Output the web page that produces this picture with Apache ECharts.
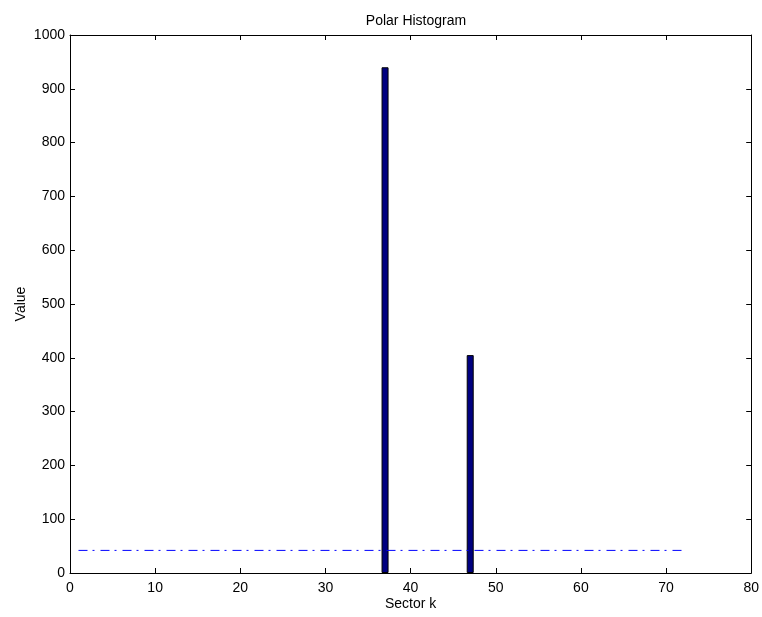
<!DOCTYPE html>
<html>
<head>
<meta charset="utf-8">
<script src="https://cdn.jsdelivr.net/npm/echarts@6/dist/echarts.min.js"></script>
<style>html,body{margin:0;padding:0;background:#fff}#c{width:762px;height:617px}</style>
</head>
<body>
<div id="c"></div>
<script>
// Data
var sectors = [37, 47];
var counts = [940, 405];
var thresholdValue = 42;
var thresholdSectors = [1, 72];
var xTicks = [0, 10, 20, 30, 40, 50, 60, 70, 80];
var yTicks = [0, 100, 200, 300, 400, 500, 600, 700, 800, 900, 1000];

var barData = sectors.map(function (s, i) { return [s, counts[i]]; });
var lineData = thresholdSectors.map(function (s) { return [s, thresholdValue]; });

var font = 'Liberation Sans, Arial, Helvetica, sans-serif';
var chart = echarts.init(document.getElementById('c'), null, { renderer: 'canvas' });
var axLine = { show: true, onZero: false, lineStyle: { color: '#000', width: 1 } };
var tick = { show: true, inside: true, length: 5, lineStyle: { color: '#000', width: 1 } };
var plain = function (v) { return String(v); };
chart.setOption({
  animation: false,
  backgroundColor: '#fff',
  title: {
    text: 'Polar Histogram', left: 411, top: 9, textAlign: 'center',
    textStyle: { fontFamily: font, fontSize: 14, fontWeight: 'normal', color: '#000' }
  },
  grid: { left: 70, right: 10, top: 35, bottom: 44, show: false },
  xAxis: [{
    type: 'value', min: xTicks[0], max: xTicks[xTicks.length - 1], interval: 10,
    position: 'bottom',
    name: 'Sector k', nameLocation: 'middle', nameGap: 24, nameMoveOverlap: false,
    nameTextStyle: { fontFamily: font, fontSize: 14, color: '#000' },
    axisLine: axLine, axisTick: tick,
    axisLabel: { fontFamily: font, fontSize: 14, color: '#000', margin: 8, formatter: plain },
    splitLine: { show: false }
  }, {
    type: 'value', min: xTicks[0], max: xTicks[xTicks.length - 1], interval: 10,
    position: 'top', axisLine: axLine, axisTick: tick,
    axisLabel: { show: false }, splitLine: { show: false }
  }],
  yAxis: [{
    type: 'value', min: yTicks[0], max: yTicks[yTicks.length - 1], interval: 100,
    position: 'left',
    name: 'Value', nameLocation: 'middle', nameGap: 42, nameMoveOverlap: false,
    nameTextStyle: { fontFamily: font, fontSize: 14, color: '#000' },
    axisLine: axLine, axisTick: tick,
    axisLabel: { fontFamily: font, fontSize: 14, color: '#000', margin: 5, formatter: plain },
    splitLine: { show: false }
  }, {
    type: 'value', min: yTicks[0], max: yTicks[yTicks.length - 1], interval: 100,
    position: 'right', axisLine: axLine, axisTick: tick,
    axisLabel: { show: false }, splitLine: { show: false }
  }],
  series: [{
    type: 'bar', data: barData, barWidth: 7, xAxisIndex: 0, yAxisIndex: 0,
    itemStyle: { color: '#000080', borderColor: '#000', borderWidth: 1 }
  }, {
    type: 'line', data: lineData, symbol: 'none', xAxisIndex: 0, yAxisIndex: 0,
    lineStyle: { color: '#0000ff', width: 1, type: [9, 5, 2, 6] }
  }]
});
</script>
</body>
</html>
